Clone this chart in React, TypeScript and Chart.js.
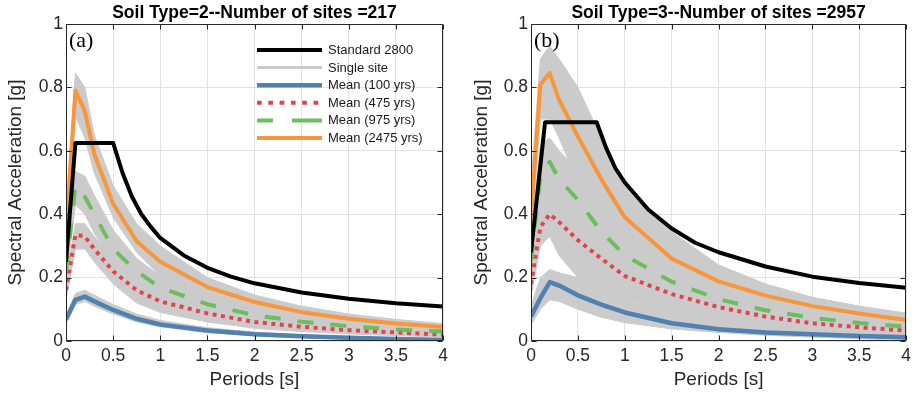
import React, { useEffect, useRef } from "react";
import { Chart, registerables } from "chart.js";

Chart.register(...registerables);

// ---- data -------------------------------------------------------------

// Spectral periods [s] of the hazard spectra
const periods = [0, 0.1, 0.2, 0.3, 0.5, 0.75, 1, 1.5, 2, 2.5, 3, 3.5, 4];

// Soil type 2 (217 sites)
const code2800PeriodsS2 = [0, 0.1, 0.5, 0.6, 0.7, 0.8, 0.9, 1, 1.25, 1.5, 1.75, 2, 2.5, 3, 3.5, 4];
const code2800S2 = [0.25, 0.625, 0.625, 0.53, 0.455, 0.4, 0.36, 0.325, 0.27, 0.231, 0.203, 0.182, 0.153, 0.133, 0.119, 0.109];
const mean100S2 = [0.068, 0.13, 0.14, 0.125, 0.098, 0.07, 0.052, 0.033, 0.021, 0.015, 0.01, 0.006, 0.003];
const mean475S2 = [0.16, 0.335, 0.33, 0.29, 0.22, 0.16, 0.125, 0.087, 0.06, 0.045, 0.034, 0.027, 0.02];
const mean975S2 = [0.22, 0.49, 0.455, 0.4, 0.29, 0.22, 0.168, 0.116, 0.081, 0.061, 0.047, 0.036, 0.03];
const mean2475S2 = [0.34, 0.79, 0.725, 0.59, 0.433, 0.315, 0.25, 0.17, 0.123, 0.091, 0.07, 0.055, 0.044];
const sitesHi100S2 = [0.08, 0.15, 0.16, 0.145, 0.115, 0.085, 0.065, 0.042, 0.028, 0.02, 0.014, 0.01, 0.007];
const sitesLo100S2 = [0.055, 0.115, 0.125, 0.11, 0.085, 0.06, 0.045, 0.026, 0.016, 0.01, 0.006, 0.003, 0.0];
const sitesHi475S2 = [0.19, 0.37, 0.37, 0.33, 0.26, 0.19, 0.145, 0.1, 0.07, 0.053, 0.041, 0.033, 0.026];
const sitesLo475S2 = [0.13, 0.29, 0.29, 0.25, 0.18, 0.12, 0.09, 0.06, 0.04, 0.03, 0.022, 0.017, 0.012];
const sitesHi975S2 = [0.27, 0.535, 0.52, 0.46, 0.35, 0.26, 0.205, 0.14, 0.1, 0.076, 0.059, 0.047, 0.038];
const sitesLo975S2 = [0.19, 0.43, 0.4, 0.34, 0.25, 0.185, 0.14, 0.095, 0.066, 0.05, 0.038, 0.03, 0.023];
const sitesHi2475S2 = [0.42, 0.845, 0.8, 0.65, 0.49, 0.37, 0.3, 0.2, 0.145, 0.11, 0.085, 0.068, 0.055];
const sitesLo2475S2 = [0.3, 0.71, 0.64, 0.53, 0.39, 0.28, 0.205, 0.135, 0.095, 0.072, 0.056, 0.045, 0.036];

// Soil type 3 (2957 sites)
const code2800PeriodsS3 = [0, 0.15, 0.7, 0.8, 0.9, 1, 1.25, 1.5, 1.75, 2, 2.5, 3, 3.5, 4];
const code2800S3 = [0.28, 0.69, 0.69, 0.61, 0.545, 0.5, 0.415, 0.355, 0.31, 0.28, 0.235, 0.203, 0.183, 0.168];
const mean100S3 = [0.077, 0.135, 0.186, 0.175, 0.144, 0.115, 0.09, 0.056, 0.037, 0.027, 0.021, 0.016, 0.012];
const mean475S3 = [0.18, 0.36, 0.4, 0.375, 0.318, 0.26, 0.205, 0.148, 0.107, 0.077, 0.056, 0.043, 0.033];
const mean975S3 = [0.255, 0.52, 0.565, 0.51, 0.445, 0.345, 0.27, 0.187, 0.132, 0.097, 0.073, 0.057, 0.045];
const mean2475S3 = [0.39, 0.81, 0.845, 0.76, 0.645, 0.51, 0.39, 0.26, 0.188, 0.143, 0.11, 0.087, 0.066];
const sitesHi100S3 = [0.11, 0.2, 0.225, 0.215, 0.2, 0.16, 0.128, 0.09, 0.066, 0.05, 0.04, 0.032, 0.026];
const sitesLo100S3 = [0.05, 0.1, 0.13, 0.125, 0.1, 0.075, 0.058, 0.038, 0.027, 0.018, 0.012, 0.007, 0.002];
const sitesHi475S3 = [0.24, 0.46, 0.5, 0.47, 0.4, 0.33, 0.27, 0.19, 0.14, 0.105, 0.08, 0.063, 0.05];
const sitesLo475S3 = [0.14, 0.3, 0.33, 0.27, 0.2, 0.16, 0.13, 0.09, 0.066, 0.05, 0.04, 0.032, 0.026];
const sitesHi975S3 = [0.33, 0.62, 0.64, 0.6, 0.54, 0.42, 0.34, 0.24, 0.18, 0.13, 0.1, 0.08, 0.062];
const sitesLo975S3 = [0.2, 0.42, 0.46, 0.42, 0.36, 0.27, 0.21, 0.14, 0.1, 0.075, 0.055, 0.043, 0.033];
const sitesHi2475S3 = [0.5, 0.89, 0.93, 0.89, 0.8, 0.64, 0.49, 0.345, 0.24, 0.18, 0.138, 0.11, 0.088];
const sitesLo2475S3 = [0.33, 0.7, 0.7, 0.64, 0.5, 0.38, 0.3, 0.2, 0.145, 0.105, 0.08, 0.065, 0.05];

// Axis ticks
const xTicks = [0, 0.5, 1, 1.5, 2, 2.5, 3, 3.5, 4];
const yTicks = [0, 0.2, 0.4, 0.6, 0.8, 1];

// ---- styles -----------------------------------------------------------

const SANS = '"Liberation Sans", Arial, Helvetica, sans-serif';
const SERIF = '"Liberation Serif", "Times New Roman", serif';
const AXIS_INK = "#262626";
const GRID = "#e2e2e2";
const BAND = "#cbcbcb";

const styles = {
  code: { label: "Standard 2800", color: "#000000", width: 4, dash: [] as number[] },
  site: { label: "Single site", color: BAND, width: 3, dash: [] as number[] },
  m100: { label: "Mean (100 yrs)", color: "#4f81b1", width: 4.5, dash: [] as number[] },
  m475: { label: "Mean (475 yrs)", color: "#e2444d", width: 4, dash: [4, 4.5] },
  m975: { label: "Mean (975 yrs)", color: "#6cbd5e", width: 4, dash: [16, 17] },
  m2475: { label: "Mean (2475 yrs)", color: "#f7963a", width: 4, dash: [] as number[] },
};

const pts = (xs: number[], ys: number[]) => xs.map((x, i) => ({ x, y: ys[i] }));
const plainNumber = (v: number | string) => String(Math.round(Number(v) * 100) / 100);

type Panel = {
  title: string;
  tag: string;
  codeT: number[];
  code: number[];
  means: number[][];
  hi: number[][];
  lo: number[][];
  yAxisWidth: number;
  rightPad: number;
  yTitlePad: number;
  legend: boolean;
};

const panels: Panel[] = [
  {
    title: "Soil Type=2--Number of sites =217",
    tag: "(a)",
    codeT: code2800PeriodsS2,
    code: code2800S2,
    means: [mean100S2, mean475S2, mean975S2, mean2475S2],
    hi: [sitesHi100S2, sitesHi475S2, sitesHi975S2, sitesHi2475S2],
    lo: [sitesLo100S2, sitesLo475S2, sitesLo975S2, sitesLo2475S2],
    yAxisWidth: 66,
    rightPad: 15,
    yTitlePad: 4,
    legend: true,
  },
  {
    title: "Soil Type=3--Number of sites =2957",
    tag: "(b)",
    codeT: code2800PeriodsS3,
    code: code2800S3,
    means: [mean100S3, mean475S3, mean975S3, mean2475S3],
    hi: [sitesHi100S3, sitesHi475S3, sitesHi975S3, sitesHi2475S3],
    lo: [sitesLo100S3, sitesLo475S3, sitesLo975S3, sitesLo2475S3],
    yAxisWidth: 73,
    rightPad: 8,
    yTitlePad: 12,
    legend: false,
  },
];

const meanStyles = [styles.m100, styles.m475, styles.m975, styles.m2475];
const legendItems = [styles.code, styles.site, styles.m100, styles.m475, styles.m975, styles.m2475];

function buildDatasets(p: Panel) {
  const sets: any[] = [];
  // envelopes of the individual site spectra, filled upper-to-lower
  p.hi.forEach((hi, k) => {
    sets.push({
      label: "Single site",
      data: pts(periods, hi),
      borderColor: BAND,
      borderWidth: 1,
      backgroundColor: BAND,
      fill: "+1",
      pointRadius: 0,
      order: 100,
    });
    sets.push({
      label: "Single site",
      data: pts(periods, p.lo[k]),
      borderColor: BAND,
      borderWidth: 1,
      backgroundColor: BAND,
      fill: false,
      pointRadius: 0,
      order: 100,
    });
  });
  p.means.forEach((m, k) => {
    const s = meanStyles[k];
    sets.push({
      label: s.label,
      data: pts(periods, m),
      borderColor: s.color,
      borderWidth: s.width,
      borderDash: s.dash,
      borderCapStyle: "butt",
      borderJoinStyle: "round",
      fill: false,
      pointRadius: 0,
      order: 10 - k,
    });
  });
  sets.push({
    label: styles.code.label,
    data: pts(p.codeT, p.code),
    borderColor: styles.code.color,
    borderWidth: styles.code.width,
    borderJoinStyle: "round",
    fill: false,
    pointRadius: 0,
    order: 0,
  });
  return sets;
}

function decorations(p: Panel) {
  return {
    id: "decorations",
    afterDraw(chart: any) {
      const { ctx, chartArea, scales } = chart;
      const { left, right, top, bottom } = chartArea;
      const x = scales.x;
      const y = scales.y;
      ctx.save();

      // axes box with inward ticks
      ctx.strokeStyle = AXIS_INK;
      ctx.lineWidth = 1;
      const L = Math.round(left) + 0.5;
      const R = Math.round(right) - 0.5;
      const T = Math.round(top) + 0.5;
      const B = Math.round(bottom) - 0.5;
      ctx.beginPath();
      ctx.rect(L, T, R - L, B - T);
      xTicks.forEach((v) => {
        const px = Math.round(x.getPixelForValue(v)) + 0.5;
        ctx.moveTo(px, B);
        ctx.lineTo(px, B - 5);
        ctx.moveTo(px, T);
        ctx.lineTo(px, T + 5);
      });
      yTicks.forEach((v) => {
        const py = Math.round(y.getPixelForValue(v)) + 0.5;
        ctx.moveTo(L, py);
        ctx.lineTo(L + 5, py);
        ctx.moveTo(R, py);
        ctx.lineTo(R - 5, py);
      });
      ctx.stroke();

      // title
      ctx.fillStyle = "#000000";
      ctx.font = `bold 17.5px ${SANS}`;
      ctx.textAlign = "center";
      ctx.textBaseline = "middle";
      ctx.fillText(p.title, (left + right) / 2, 13);

      // panel tag
      ctx.font = `22px ${SERIF}`;
      ctx.textAlign = "left";
      ctx.fillText(p.tag, left + 3, 41);

      // legend
      if (p.legend) {
        const x0 = 257;
        const x1 = 322;
        ctx.font = `13px ${SANS}`;
        ctx.textBaseline = "middle";
        legendItems.forEach((s, i) => {
          const yy = 50 + i * 17.6;
          ctx.beginPath();
          ctx.strokeStyle = s.color;
          ctx.lineWidth = s.width;
          ctx.lineCap = "butt";
          if (s === styles.m975) ctx.setLineDash([16, 19, 30]);
          else if (s === styles.m475) ctx.setLineDash([4.7, 6.6]);
          else ctx.setLineDash([]);
          ctx.moveTo(x0, yy);
          ctx.lineTo(x1, yy);
          ctx.stroke();
          ctx.setLineDash([]);
          ctx.fillStyle = "#1a1a1a";
          ctx.fillText(s.label, 328, yy + 0.5);
        });
      }
      ctx.restore();
    },
  };
}

function makeConfig(p: Panel): any {
  return {
    type: "line",
    data: { datasets: buildDatasets(p) },
    options: {
      responsive: false,
      animation: false,
      events: [],
      layout: { padding: { top: 24, right: p.rightPad, bottom: 0, left: 0 } },
      plugins: {
        legend: { display: false },
        tooltip: { enabled: false },
        title: { display: false },
      },
      elements: { point: { radius: 0 }, line: { tension: 0 } },
      scales: {
        x: {
          type: "linear",
          min: 0,
          max: 4,
          afterBuildTicks: (s: any) => {
            s.ticks = xTicks.map((v) => ({ value: v }));
          },
          ticks: {
            color: AXIS_INK,
            font: { family: SANS, size: 17.5 },
            padding: 5,
            maxRotation: 0,
            autoSkip: false,
            callback: plainNumber,
          },
          grid: { color: GRID, lineWidth: 1, drawTicks: false },
          border: { display: false },
          title: {
            display: true,
            text: "Periods [s]",
            color: AXIS_INK,
            font: { family: SANS, size: 19 },
            padding: { top: 0, bottom: 3 },
          },
          afterFit: (s: any) => {
            s.height = 53;
          },
        },
        y: {
          type: "linear",
          min: 0,
          max: 1,
          afterBuildTicks: (s: any) => {
            s.ticks = yTicks.map((v) => ({ value: v }));
          },
          ticks: {
            color: AXIS_INK,
            font: { family: SANS, size: 17.5 },
            padding: 3,
            callback: plainNumber,
          },
          grid: { color: GRID, lineWidth: 1, drawTicks: false },
          border: { display: false },
          title: {
            display: true,
            text: "Spectral Acceleration [g]",
            color: AXIS_INK,
            font: { family: SANS, size: 19 },
            padding: { top: p.yTitlePad, bottom: 0 },
          },
          afterFit: (s: any) => {
            s.width = p.yAxisWidth;
          },
        },
      },
    },
    plugins: [decorations(p)],
  };
}

function SpectrumPanel({ panel, left }: { panel: Panel; left: number }) {
  const ref = useRef<HTMLCanvasElement | null>(null);
  useEffect(() => {
    if (!ref.current) return;
    const chart = new Chart(ref.current, makeConfig(panel));
    return () => chart.destroy();
  }, [panel]);
  return (
    <canvas
      ref={ref}
      width={458}
      height={394}
      style={{ position: "absolute", left, top: 0, width: 458, height: 394 }}
    />
  );
}

export default function App() {
  return (
    <div
      style={{
        position: "absolute",
        left: 0,
        top: 0,
        width: 916,
        height: 394,
        background: "#ffffff",
        overflow: "hidden",
      }}
    >
      <SpectrumPanel panel={panels[0]} left={0} />
      <SpectrumPanel panel={panels[1]} left={458} />
    </div>
  );
}
